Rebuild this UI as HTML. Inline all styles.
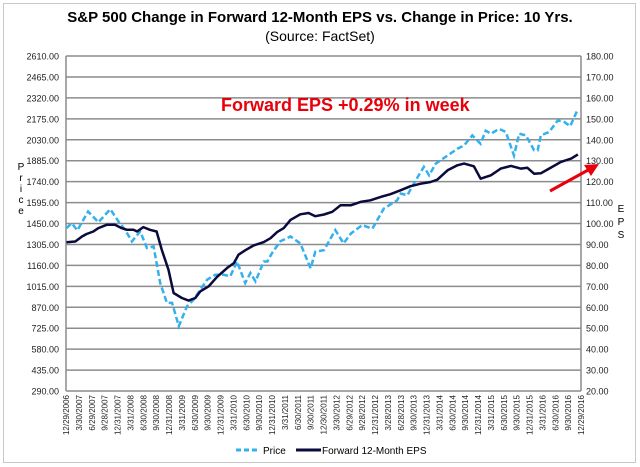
<!DOCTYPE html>
<html><head><meta charset="utf-8"><style>
body{margin:0;background:#fff;}
svg{display:block;font-family:"Liberation Sans",Arial,sans-serif;}
</style></head><body>
<svg id="c" width="640" height="467" viewBox="0 0 640 467">
<rect x="3.5" y="3.5" width="632" height="459" fill="#fff" stroke="#c8c8c8"/>
<text x="320" y="22" text-anchor="middle" font-size="15" font-weight="bold">S&amp;P 500 Change in Forward 12-Month EPS vs. Change in Price: 10 Yrs.</text>
<text x="320" y="41" text-anchor="middle" font-size="14">(Source: FactSet)</text>
<g id="grid"></g><g id="xl"></g><g id="yl"></g><g id="yr"></g><g id="series"></g>
<text x="221" y="111" font-size="18" font-weight="bold" fill="#e8000b">Forward EPS +0.29% in week</text>
<g>
<line x1="550" y1="191" x2="590" y2="169" stroke="#e8000b" stroke-width="3"/>
<polygon points="599,164 584,165 591,176" fill="#e8000b"/>
</g>
<g font-size="10">
<text x="21" y="170" text-anchor="middle">P</text><text x="21" y="181" text-anchor="middle">r</text><text x="21" y="192" text-anchor="middle">i</text><text x="21" y="203" text-anchor="middle">c</text><text x="21" y="214" text-anchor="middle">e</text></g>
<g font-size="10">
<text x="621" y="212" text-anchor="middle">E</text><text x="621" y="225" text-anchor="middle">P</text><text x="621" y="238" text-anchor="middle">S</text></g>
<g>
<g><line x1="236" y1="450" x2="260" y2="450" stroke="#33b0ee" stroke-width="3" stroke-dasharray="5,3"/><text x="263" y="454" font-size="10">Price</text></g>
<g><line x1="296" y1="450" x2="321" y2="450" stroke="#0a0a3c" stroke-width="3"/><text x="322" y="454" font-size="10">Forward 12-Month EPS</text></g>
</g>
</svg>
<script>
const xLabels=["12/29/2006","3/30/2007","6/29/2007","9/28/2007","12/31/2007","3/31/2008","6/30/2008","9/30/2008","12/31/2008","3/31/2009","6/30/2009","9/30/2009","12/31/2009","3/31/2010","6/30/2010","9/30/2010","12/31/2010","3/31/2011","6/30/2011","9/30/2011","12/30/2011","3/30/2012","6/29/2012","9/28/2012","12/31/2012","3/28/2013","6/28/2013","9/30/2013","12/31/2013","3/31/2014","6/30/2014","9/30/2014","12/31/2014","3/31/2015","6/30/2015","9/30/2015","12/31/2015","3/31/2016","6/30/2016","9/30/2016","12/29/2016"];
const leftTicks=[290,435,580,725,870,1015,1160,1305,1450,1595,1740,1885,2030,2175,2320,2465,2610];
const rightTicks=[20,30,40,50,60,70,80,90,100,110,120,130,140,150,160,170,180];
// years since 12/29/2006
const priceT=[0.01,0.11,0.22,0.43,0.63,0.86,1.02,1.15,1.28,1.44,1.57,1.70,1.83,1.96,2.06,2.19,2.35,2.48,2.61,2.74,2.90,3.06,3.19,3.32,3.48,3.58,3.68,3.84,3.91,4.00,4.16,4.36,4.55,4.75,4.84,5.01,5.23,5.39,5.53,5.75,5.95,6.17,6.43,6.50,6.63,6.79,6.95,7.05,7.18,7.41,7.60,7.73,7.89,8.05,8.15,8.25,8.41,8.54,8.64,8.70,8.80,8.93,9.09,9.16,9.22,9.38,9.55,9.68,9.79,9.94];
const priceV=[1418,1452,1402,1533,1459,1549,1464,1406,1326,1395,1280,1291,1038,900,900,739,877,923,992,1061,1095,1095,1084,1187,1038,1107,1049,1187,1187,1245,1326,1360,1312,1140,1254,1266,1404,1312,1380,1438,1415,1553,1611,1657,1646,1749,1842,1784,1865,1921,1968,1991,2060,2002,2093,2072,2105,2084,1980,1921,2072,2060,1957,1957,2060,2084,2164,2152,2124,2243];
const epsT=[0.01,0.18,0.31,0.40,0.53,0.63,0.79,0.95,1.08,1.18,1.31,1.38,1.50,1.63,1.76,1.86,1.99,2.09,2.25,2.38,2.51,2.61,2.77,2.93,3.13,3.26,3.35,3.48,3.64,3.84,3.97,4.10,4.23,4.36,4.55,4.71,4.84,5.01,5.17,5.33,5.53,5.72,5.91,6.11,6.30,6.50,6.69,6.89,7.08,7.21,7.41,7.60,7.73,7.92,8.05,8.25,8.44,8.64,8.83,8.96,9.09,9.22,9.38,9.61,9.81,9.94];
const epsV=[91.0,91.4,93.8,95.0,96.2,97.8,99.4,99.4,97.8,97.0,97.0,96.2,98.3,97.0,96.2,87.4,77.9,66.8,64.4,63.2,64.4,67.6,70.0,74.4,78.8,81.1,85.1,87.2,89.5,91.1,93.0,95.9,97.8,101.7,104.4,105.0,103.5,104.3,105.6,108.7,108.7,110.3,111.1,112.7,114.0,115.9,117.8,119.0,119.8,120.9,125.4,127.8,128.6,127.3,121.4,123.0,126.2,127.5,126.2,126.6,123.8,124.0,126.2,129.4,131.0,133.0];

const NS="http://www.w3.org/2000/svg";
const L=66,R=581,T=56,B=391;
const xS=t=>L+t/10*(R-L);
const yP=v=>B-(v-290)/(2610-290)*(B-T);
const yE=v=>B-(v-20)/(180-20)*(B-T);
function mk(tag,attrs,parent){const e=document.createElementNS(NS,tag);for(const k in attrs)e.setAttribute(k,attrs[k]);parent.appendChild(e);return e;}
const grid=document.getElementById('grid');
leftTicks.forEach((v,i)=>{
  const g=mk('line',{x1:L,x2:R,y1:yP(v),y2:yP(v),stroke:'#8c8c8c','stroke-width':1.5},grid);
  
  
  const t=mk('text',{x:59,y:yP(v)+3.5,'text-anchor':'end','font-size':9,fill:'#222'},document.getElementById('yl'));
  t.textContent=v.toFixed(2);
  
  
});
rightTicks.forEach(v=>{
  const t=mk('text',{x:586,y:yE(v)+3.5,'font-size':9,fill:'#222'},document.getElementById('yr'));
  t.textContent=v.toFixed(2);
  
  
});
const la=mk('line',{x1:L,x2:L,y1:T,y2:B,stroke:'#8c8c8c','stroke-width':1.5},grid);


const ra=mk('line',{x1:R,x2:R,y1:T,y2:B,stroke:'#8c8c8c','stroke-width':1.5},grid);


const xl=document.getElementById('xl');
xLabels.forEach((s,i)=>{
  const x=xS(i/4)+3;
  const t=mk('text',{x:0,y:0,'text-anchor':'end','font-size':8,fill:'#222',transform:`translate(${x},395) rotate(-90)`},xl);
  t.textContent=s;
  
  
});
const ser=document.getElementById('series');
const pp=priceT.map((t,i)=>xS(t).toFixed(1)+','+yP(priceV[i]).toFixed(1)).join(' ');
const p1=mk('polyline',{points:pp,fill:'none',stroke:'#33b0ee','stroke-width':2.5,'stroke-dasharray':'6,3'},ser);


const ep=epsT.map((t,i)=>xS(t).toFixed(1)+','+yE(epsV[i]).toFixed(1)).join(' ');
const p2=mk('polyline',{points:ep,fill:'none',stroke:'#0a0a3c','stroke-width':2.5,'stroke-linejoin':'round'},ser);


</script>
</body></html>
